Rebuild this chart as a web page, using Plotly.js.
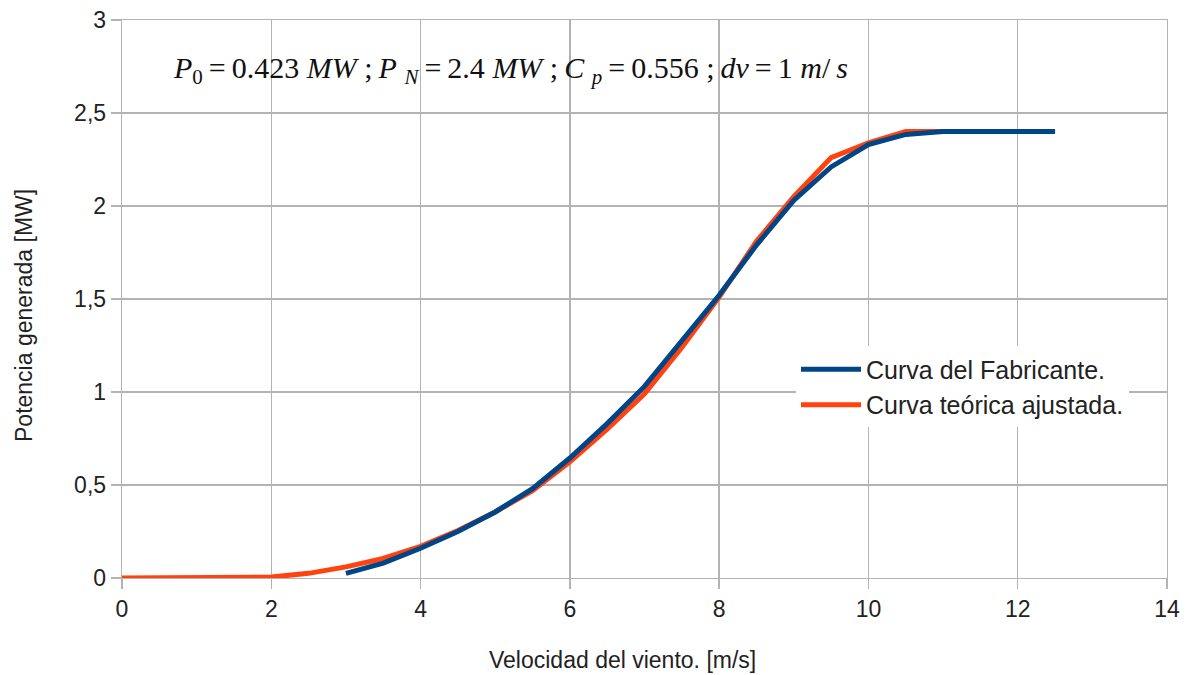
<!DOCTYPE html>
<html>
<head>
<meta charset="utf-8">
<script src="https://cdn.plot.ly/plotly-3.0.1.min.js"></script>
<style>html,body{margin:0;padding:0;background:#fff}#chart{width:1193px;height:675px}</style>
</head>
<body>
<div id="chart"></div>
<script>
const fabricanteX = [3,3.5,4,4.5,5,5.5,6,6.5,7,7.5,8,8.5,9,9.5,10,10.5,11,11.5,12,12.5];
const fabricanteY = [0.025,0.08,0.16,0.25,0.355,0.48,0.645,0.83,1.03,1.27,1.52,1.79,2.03,2.21,2.33,2.385,2.40,2.40,2.40,2.40];
const teoricaX = [0,0.5,1,1.5,2,2.5,3,3.5,4,4.5,5,5.5,6,6.5,7,7.5,8,8.5,9,9.5,10,10.5,11,11.5,12,12.5];
const teoricaY = [0,0,0,0,0.005,0.025,0.06,0.105,0.17,0.255,0.355,0.47,0.625,0.80,0.99,1.24,1.51,1.81,2.05,2.26,2.34,2.40,2.40,2.40,2.40,2.40];
const yTickVals = [0,0.5,1,1.5,2,2.5,3];
const yTickText = ["0","0,5","1","1,5","2","2,5","3"];
const xTickVals = [0,2,4,6,8,10,12,14];
const seriesNames = ["Curva del Fabricante.","Curva teórica ajustada."];
const xTitle = "Velocidad del viento. [m/s]";
const yTitle = "Potencia generada [MW]";
const T = "\u2009";
const annotationText = "<i>P</i><sub>0</sub>" + T + "=" + T + "0.423 <i>MW</i> ;" + T + "<i>P</i> <sub><i>N</i></sub>" + T + "=" + T +
  "2.4 <i>MW</i> ;" + T + "<i>C</i> <sub><i>p</i></sub>" + T + "=" + T + "0.556 ;" + T + "<i>dv</i>" + T + "=" + T + "1 <i>m</i>/" + T + "<i>s</i>";

const traces = [
  {x: teoricaX, y: teoricaY, type: 'scatter', mode: 'lines', name: seriesNames[1],
   line: {color: '#ff420e', width: 5}, legendrank: 2},
  {x: fabricanteX, y: fabricanteY, type: 'scatter', mode: 'lines', name: seriesNames[0],
   line: {color: '#004586', width: 5}, legendrank: 1}
];

const gridColor = '#b3b3b3';
const layout = {
  width: 1193, height: 675,
  margin: {l: 122, r: 26, t: 20, b: 97},
  paper_bgcolor: '#fff', plot_bgcolor: '#fff',
  font: {family: 'Liberation Sans, Arial, sans-serif', color: '#222'},
  xaxis: {
    range: [0, 14], tickvals: xTickVals, ticktext: xTickVals.map(String),
    showgrid: true, gridcolor: gridColor, gridwidth: 1.3, zeroline: false,
    showline: true, linecolor: gridColor, linewidth: 1.3, mirror: true,
    ticks: 'outside', ticklen: 10, tickcolor: gridColor, tickwidth: 1.3,
    tickfont: {size: 23, color: '#222'}
  },
  yaxis: {
    range: [0, 3], tickvals: yTickVals, ticktext: yTickText,
    showgrid: true, gridcolor: gridColor, gridwidth: 1.3, zeroline: false,
    showline: true, linecolor: gridColor, linewidth: 1.3, mirror: true,
    ticks: 'outside', ticklen: 10, tickcolor: gridColor, tickwidth: 1.3,
    tickfont: {size: 23, color: '#222'}
  },
  legend: {
    x: 0.645, y: 0.415, xanchor: 'left', yanchor: 'top',
    bgcolor: '#fff', borderwidth: 0,
    font: {size: 25, color: '#222'},
    itemwidth: 60, tracegroupgap: 0
  },
  annotations: [
    {
      x: 0.66, y: 2.73, xref: 'x', yref: 'y', xanchor: 'left', yanchor: 'middle',
      text: annotationText, showarrow: false,
      font: {family: 'Liberation Serif, Times New Roman, serif', size: 30, color: '#111'}
    },
    {
      x: 0.4794, y: -0.147, xref: 'paper', yref: 'paper', xanchor: 'center', yanchor: 'middle',
      text: xTitle, showarrow: false, font: {size: 23, color: '#222'}
    },
    {
      x: -0.0945, y: 0.47, xref: 'paper', yref: 'paper', xanchor: 'center', yanchor: 'middle',
      text: yTitle, textangle: -90, showarrow: false, font: {size: 23, color: '#222'}
    }
  ]
};

Plotly.newPlot('chart', traces, layout, {displayModeBar: false, staticPlot: true});
</script>
</body>
</html>
